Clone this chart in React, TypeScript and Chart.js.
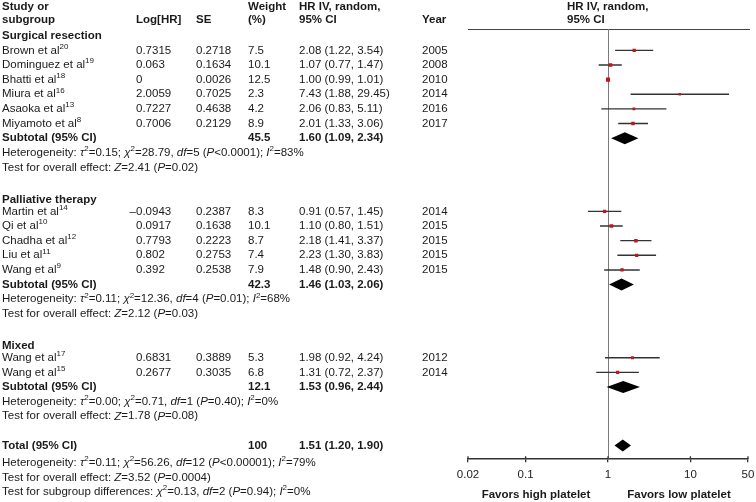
import React, { useEffect, useRef } from "react";
import { Chart, registerables } from "chart.js";

Chart.register(...registerables);

// ---------------- DATA ----------------
const groupNames = ["Surgical resection", "Palliative therapy", "Mixed"];

const studyNames = [
  "Brown et al", "Dominguez et al", "Bhatti et al", "Miura et al", "Asaoka et al", "Miyamoto et al",
  "Martin et al", "Qi et al", "Chadha et al", "Liu et al", "Wang et al",
  "Wang et al", "Wang et al",
];
const studyRefs = ["20", "19", "18", "16", "13", "8", "14", "10", "12", "11", "9", "17", "15"];
const studyGroup = [0, 0, 0, 0, 0, 0, 1, 1, 1, 1, 1, 2, 2];
const logHR = [0.7315, 0.063, 0, 2.0059, 0.7227, 0.7006, -0.0943, 0.0917, 0.7793, 0.802, 0.392, 0.6831, 0.2677];
const seValues = [0.2718, 0.1634, 0.0026, 0.7025, 0.4638, 0.2129, 0.2387, 0.1638, 0.2223, 0.2753, 0.2538, 0.3889, 0.3035];
const weights = [7.5, 10.1, 12.5, 2.3, 4.2, 8.9, 8.3, 10.1, 8.7, 7.4, 7.9, 5.3, 6.8];
const hrValues = [2.08, 1.07, 1.0, 7.43, 2.06, 2.01, 0.91, 1.1, 2.18, 2.23, 1.48, 1.98, 1.31];
const ciLow = [1.22, 0.77, 0.99, 1.88, 0.83, 1.33, 0.57, 0.8, 1.41, 1.3, 0.9, 0.92, 0.72];
const ciHigh = [3.54, 1.47, 1.01, 29.45, 5.11, 3.06, 1.45, 1.51, 3.37, 3.83, 2.43, 4.24, 2.37];
const years = [2005, 2008, 2010, 2014, 2016, 2017, 2014, 2015, 2015, 2015, 2015, 2012, 2014];

const subWeights = [45.5, 42.3, 12.1];
const subHR = [1.6, 1.46, 1.53];
const subLow = [1.09, 1.03, 0.96];
const subHigh = [2.34, 2.06, 2.44];
const subHetero = [
  "Heterogeneity: _τ_^2^=0.15; _χ_^2^=28.79, _df_=5 (_P_<0.0001); _I_^2^=83%",
  "Heterogeneity: _τ_^2^=0.11; _χ_^2^=12.36, _df_=4 (_P_=0.01); _I_^2^=68%",
  "Heterogeneity: _τ_^2^=0.00; _χ_^2^=0.71, _df_=1 (_P_=0.40); _I_^2^=0%",
];
const subEffect = [
  "Test for overall effect: _Z_=2.41 (_P_=0.02)",
  "Test for overall effect: _Z_=2.12 (_P_=0.03)",
  "Test for overall effect: _Z_=1.78 (_P_=0.08)",
];

const totalWeight = [100];
const totalHR = [1.51];
const totalLow = [1.2];
const totalHigh = [1.9];
const totalNotes = [
  "Heterogeneity: _τ_^2^=0.11; _χ_^2^=56.26, _df_=12 (_P_<0.00001); _I_^2^=79%",
  "Test for overall effect: _Z_=3.52 (_P_=0.0004)",
  "Test for subgroup differences: _χ_^2^=0.13, _df_=2 (_P_=0.94); _I_^2^=0%",
];

const tickValues = [0.02, 0.1, 1, 10, 50];
const tickLabels = ["0.02", "0.1", "1", "10", "50"];
const favorLabels = ["Favors high platelet", "Favors low platelet"];

// ---------------- LAYOUT (row positions) ----------------
const FONT = '"Liberation Sans", Arial, Helvetica, sans-serif';
const TEXT = "#1a1a1a";

type Row = { kind: string; y: number; idx: number };
function buildRows(): Row[] {
  const rows: Row[] = [];
  let cursor = 0;
  for (let g = 0; g < groupNames.length; g++) {
    rows.push({ kind: "group", y: cursor + (g > 0 ? 0.2 : 0), idx: g });
    let k = cursor + 1;
    studyGroup.forEach((sg, i) => {
      if (sg === g) {
        rows.push({ kind: "study", y: k, idx: i });
        k++;
      }
    });
    rows.push({ kind: "subtotal", y: k, idx: g });
    rows.push({ kind: "het", y: k + 1, idx: g });
    rows.push({ kind: "effect", y: k + 2, idx: g });
    cursor = k + 4;
  }
  const tY = cursor;
  rows.push({ kind: "total", y: tY, idx: 0 });
  rows.push({ kind: "note", y: tY + 1.15, idx: 0 });
  rows.push({ kind: "note", y: tY + 2.2, idx: 1 });
  rows.push({ kind: "note", y: tY + 3.15, idx: 2 });
  return rows;
}
const ROWS = buildRows();

const COL = { name: 2, log: 136, se: 196, weight: 248, hr: 299, year: 422 };
const FS = 11.5;

function fmtCI(h: number, l: number, u: number) {
  return `${h.toFixed(2)} (${l.toFixed(2)}, ${u.toFixed(2)})`;
}

function drawRich(ctx: CanvasRenderingContext2D, text: string, x: number, y: number, size: number, bold: boolean) {
  let italic = false;
  let sup = false;
  let cx = x;
  let buf = "";
  const flush = () => {
    if (!buf) return;
    const fs = sup ? Math.round(size * 0.66) : size;
    ctx.font = `${italic ? "italic " : ""}${bold ? "bold " : ""}${fs}px ${FONT}`;
    ctx.fillText(buf, cx, sup ? y - size * 0.33 : y);
    cx += ctx.measureText(buf).width;
    buf = "";
  };
  for (const ch of text) {
    if (ch === "_") {
      flush();
      italic = !italic;
    } else if (ch === "^") {
      flush();
      sup = !sup;
    } else buf += ch;
  }
  flush();
}

const forestPlugin = {
  id: "forestPlugin",
  beforeDatasetsDraw(chart: any) {
    const { ctx, chartArea, scales } = chart;
    const xs = scales.x;
    ctx.save();
    // header rule
    ctx.strokeStyle = "#444";
    ctx.lineWidth = 1;
    ctx.beginPath();
    ctx.moveTo(chartArea.left, Math.round(chartArea.top) + 0.5);
    ctx.lineTo(chartArea.right + 2, Math.round(chartArea.top) + 0.5);
    ctx.stroke();
    // null line
    const x1 = Math.round(xs.getPixelForValue(1)) + 0.5;
    ctx.strokeStyle = "#7a7a7a";
    ctx.beginPath();
    ctx.moveTo(x1, chartArea.top);
    ctx.lineTo(x1, chartArea.bottom);
    ctx.stroke();
    ctx.restore();
  },
  afterDraw(chart: any) {
    const { ctx, chartArea, scales } = chart;
    const xs = scales.x;
    const ys = scales.y;
    ctx.save();
    // upward tick stubs
    ctx.strokeStyle = "#333";
    ctx.lineWidth = 1.3;
    tickValues.forEach((v) => {
      const px = xs.getPixelForValue(v);
      ctx.beginPath();
      ctx.moveTo(px, chartArea.bottom);
      ctx.lineTo(px, chartArea.bottom - 3);
      ctx.stroke();
    });
    // diamonds
    const diamond = (h: number, l: number, u: number, y: number) => {
      const py = ys.getPixelForValue(y);
      const hh = 6;
      ctx.fillStyle = "#000";
      ctx.beginPath();
      ctx.moveTo(xs.getPixelForValue(l), py);
      ctx.lineTo(xs.getPixelForValue(h), py - hh);
      ctx.lineTo(xs.getPixelForValue(u), py);
      ctx.lineTo(xs.getPixelForValue(h), py + hh);
      ctx.closePath();
      ctx.fill();
    };
    ROWS.forEach((r) => {
      if (r.kind === "subtotal") diamond(subHR[r.idx], subLow[r.idx], subHigh[r.idx], r.y);
      if (r.kind === "total") diamond(totalHR[0], totalLow[0], totalHigh[0], r.y);
    });

    // table text
    ctx.fillStyle = TEXT;
    ctx.textBaseline = "middle";
    ctx.textAlign = "left";
    const S = FS;
    const bold = `bold ${S}px ${FONT}`;
    const norm = `${S}px ${FONT}`;
    const py = (v: number) => ys.getPixelForValue(v);

    // headers
    const h1 = py(-2.0);
    const h2 = py(-1.1);
    ctx.font = bold;
    ctx.fillText("Study or", COL.name, h1);
    ctx.fillText("subgroup", COL.name, h2);
    ctx.fillText("Log[HR]", COL.log, h2);
    ctx.fillText("SE", COL.se, h2);
    ctx.fillText("Weight", COL.weight, h1);
    ctx.fillText("(%)", COL.weight, h2);
    ctx.fillText("HR IV, random,", COL.hr, h1);
    ctx.fillText("95% CI", COL.hr, h2);
    ctx.fillText("Year", COL.year, h2);
    const plotHeadX = chartArea.left + 99;
    ctx.fillText("HR IV, random,", plotHeadX, h1);
    ctx.fillText("95% CI", plotHeadX, h2);

    ROWS.forEach((r) => {
      const y = py(r.y);
      if (r.kind === "group") {
        ctx.font = bold;
        ctx.fillText(groupNames[r.idx], COL.name, y);
      } else if (r.kind === "study") {
        const i = r.idx;
        drawRich(ctx, `${studyNames[i]}^${studyRefs[i]}^`, COL.name, y, S, false);
        ctx.font = norm;
        const lv = String(logHR[i]).replace("-", "–");
        const off = logHR[i] < 0 ? ctx.measureText("–").width : 0;
        ctx.fillText(lv, COL.log - off, y);
        ctx.fillText(String(seValues[i]), COL.se, y);
        ctx.fillText(weights[i].toFixed(1), COL.weight, y);
        ctx.fillText(fmtCI(hrValues[i], ciLow[i], ciHigh[i]), COL.hr, y);
        ctx.fillText(String(years[i]), COL.year, y);
      } else if (r.kind === "subtotal") {
        ctx.font = bold;
        ctx.fillText("Subtotal (95% CI)", COL.name, y);
        ctx.fillText(subWeights[r.idx].toFixed(1), COL.weight, y);
        ctx.fillText(fmtCI(subHR[r.idx], subLow[r.idx], subHigh[r.idx]), COL.hr, y);
      } else if (r.kind === "het") {
        drawRich(ctx, subHetero[r.idx], COL.name, y, S, false);
      } else if (r.kind === "effect") {
        drawRich(ctx, subEffect[r.idx], COL.name, y, S, false);
      } else if (r.kind === "total") {
        ctx.font = bold;
        ctx.fillText("Total (95% CI)", COL.name, y);
        ctx.fillText(String(totalWeight[0]), COL.weight, y);
        ctx.fillText(fmtCI(totalHR[0], totalLow[0], totalHigh[0]), COL.hr, y);
      } else if (r.kind === "note") {
        drawRich(ctx, totalNotes[r.idx], COL.name, y, S, false);
      }
    });

    // favors labels
    ctx.font = bold;
    ctx.textAlign = "center";
    ctx.fillText(favorLabels[0], 536, 495);
    ctx.fillText(favorLabels[1], 679, 495);
    ctx.restore();
  },
};

export default function App() {
  const canvasRef = useRef<HTMLCanvasElement | null>(null);

  useEffect(() => {
    if (!canvasRef.current) return;
    const studyRows = ROWS.filter((r) => r.kind === "study");

    const whiskers = studyRows.map((r) => ({
      type: "scatter" as const,
      data: [
        { x: ciLow[r.idx], y: r.y },
        { x: ciHigh[r.idx], y: r.y },
      ],
      showLine: true,
      borderColor: "#333",
      borderWidth: 1.4,
      pointRadius: 0,
      order: 2,
    }));

    const points = {
      type: "scatter" as const,
      data: studyRows.map((r) => ({ x: hrValues[r.idx], y: r.y })),
      pointStyle: "rect" as const,
      pointRadius: studyRows.map((r) => 1.5 + weights[r.idx] * 0.11),
      backgroundColor: "#c0161e",
      borderColor: "#c0161e",
      borderWidth: 0,
      order: 0,
    };

    const chart = new Chart(canvasRef.current, {
      type: "scatter",
      data: { datasets: [points, ...whiskers] as any },
      options: {
        responsive: false,
        animation: false,
        devicePixelRatio: 1,
        layout: { padding: { left: 468, right: 8, top: 29, bottom: 14 } },
        plugins: { legend: { display: false }, tooltip: { enabled: false } },
        scales: {
          x: {
            type: "logarithmic",
            min: 0.02,
            max: 50,
            position: "bottom",
            offset: false,
            afterBuildTicks: (s: any) => {
              s.ticks = tickValues.map((v) => ({ value: v }));
            },
            afterFit: (s: any) => {
              s.paddingLeft = 0;
              s.paddingRight = 0;
            },
            ticks: {
              callback: (_v: any, i: number) => tickLabels[i],
              font: { size: 11.5, family: FONT },
              color: "#222",
              padding: 6,
              maxRotation: 0,
              autoSkip: false,
            },
            grid: { drawOnChartArea: false, drawTicks: true, tickLength: 3, color: "#333", lineWidth: 1.3 },
            border: { display: true, color: "#333", width: 1.5 },
          },
          y: { type: "linear", reverse: true, min: -0.46, max: 28.93, display: false },
        },
      },
      plugins: [forestPlugin],
    } as any);
    return () => chart.destroy();
  }, []);

  return (
    <div style={{ position: "absolute", left: 0, top: 0, width: 756, height: 502, background: "#fff" }}>
      <canvas ref={canvasRef} width={756} height={502} style={{ width: 756, height: 502, display: "block" }} />
    </div>
  );
}
